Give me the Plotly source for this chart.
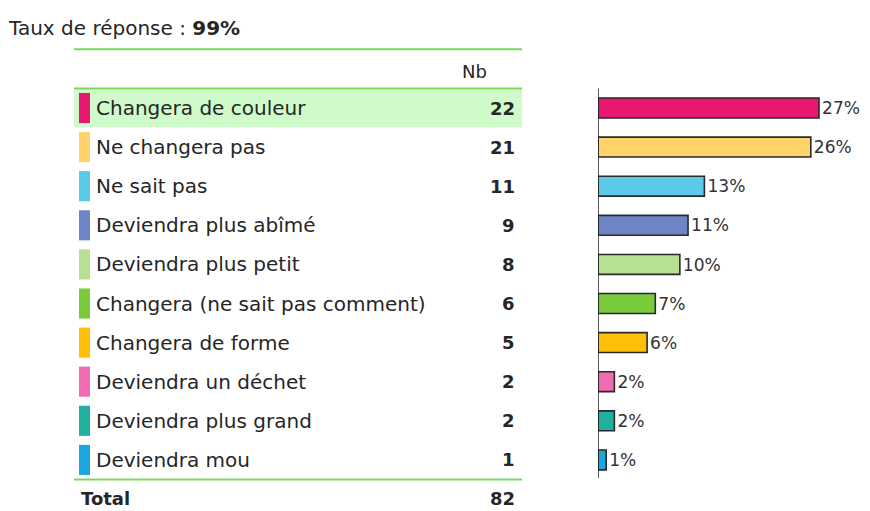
import plotly.graph_objects as go

# --- data ---
categories = [
    "Changera de couleur",
    "Ne changera pas",
    "Ne sait pas",
    "Deviendra plus abîmé",
    "Deviendra plus petit",
    "Changera (ne sait pas comment)",
    "Changera de forme",
    "Deviendra un déchet",
    "Deviendra plus grand",
    "Deviendra mou",
]
counts = [22, 21, 11, 9, 8, 6, 5, 2, 2, 1]
percents = [27, 26, 13, 11, 10, 7, 6, 2, 2, 1]
total = 82
response_rate = "99%"

colors = [
    "#E8176F", "#FDD36A", "#5ACAE6", "#6E84C4", "#B6E192",
    "#7ACB3A", "#FFBE0A", "#F06BB1", "#1FB09E", "#1AA6DF",
]

W, H = 870, 511
FONT = "DejaVu Sans, Verdana, sans-serif"
TXT = "#262626"
GREEN = "#7CD65E"

# row geometry (row index on the y axis, reversed)
row0_px, pitch_px = 108, 39.1
y_top = -row0_px / pitch_px
y_bot = (H - row0_px) / pitch_px

# bar plot x axis: zero at px 598, 8.185 px per percent
x0_px, px_per = 598, 8.185
x_max = (W - x0_px) / px_per

def px(x):
    return x / W

rows = list(range(len(categories)))

fig = go.Figure()
fig.add_trace(go.Bar(
    x=percents,
    y=rows,
    orientation="h",
    width=0.51,
    marker=dict(color=colors, line=dict(color="#2A2A2A", width=1.6)),
    text=[f"{p}%" for p in percents],
    textposition="outside",
    textfont=dict(family=FONT, size=18, color="#333333"),
    cliponaxis=False,
    hoverinfo="skip",
))

shapes = []
annotations = []

# header / footer rules of the table
for yy in (-1.5, -0.5, 9.5):
    shapes.append(dict(type="line", xref="paper", yref="y",
                       x0=px(74), x1=px(522), y0=yy, y1=yy,
                       line=dict(color=GREEN, width=2)))

# highlighted first row
shapes.append(dict(type="rect", xref="paper", yref="y",
                   x0=px(74), x1=px(522), y0=-0.47, y1=0.49,
                   fillcolor="#CFFBCB", line=dict(width=0), layer="below"))

# swatches, labels and counts
for i, (cat, n, c) in enumerate(zip(categories, counts, colors)):
    shapes.append(dict(type="rect", xref="paper", yref="y",
                       x0=px(79), x1=px(90), y0=i - 0.385, y1=i + 0.385,
                       fillcolor=c, line=dict(width=0)))
    annotations.append(dict(xref="paper", yref="y", x=px(94), y=i,
                            text=cat, showarrow=False, xanchor="left",
                            yanchor="middle",
                            font=dict(family=FONT, size=20, color=TXT)))
    annotations.append(dict(xref="paper", yref="y", x=px(517), y=i,
                            text=f"<b>{n}</b>", showarrow=False,
                            xanchor="right", yanchor="middle",
                            font=dict(family=FONT, size=18, color=TXT)))

# header and total
annotations.append(dict(xref="paper", yref="y", x=px(489), y=-0.93,
                        text="Nb", showarrow=False, xanchor="right",
                        yanchor="middle",
                        font=dict(family=FONT, size=18, color=TXT)))
annotations.append(dict(xref="paper", yref="y", x=px(79), y=9.98,
                        text="<b>Total</b>", showarrow=False, xanchor="left",
                        yanchor="middle",
                        font=dict(family=FONT, size=18, color=TXT)))
annotations.append(dict(xref="paper", yref="y", x=px(517), y=9.98,
                        text=f"<b>{total}</b>", showarrow=False,
                        xanchor="right", yanchor="middle",
                        font=dict(family=FONT, size=18, color=TXT)))
annotations.append(dict(xref="paper", yref="y", x=px(6), y=-2.05,
                        text=f"Taux de réponse : <b>{response_rate}</b>",
                        showarrow=False, xanchor="left", yanchor="middle",
                        font=dict(family=FONT, size=20, color=TXT)))

# vertical axis line of the bar chart
shapes.append(dict(type="line", xref="x", yref="y", x0=0, x1=0,
                   y0=-0.5, y1=9.47, line=dict(color="#222222", width=1.5)))

fig.update_layout(
    width=W, height=H,
    margin=dict(l=0, r=0, t=0, b=0),
    paper_bgcolor="white", plot_bgcolor="white",
    showlegend=False,
    shapes=shapes,
    annotations=annotations,
    xaxis=dict(domain=[x0_px / W, 1], range=[0, x_max], visible=False,
               fixedrange=True),
    yaxis=dict(domain=[0, 1], range=[y_bot, y_top], visible=False,
               fixedrange=True),
)

fig.write_html("out.html")
